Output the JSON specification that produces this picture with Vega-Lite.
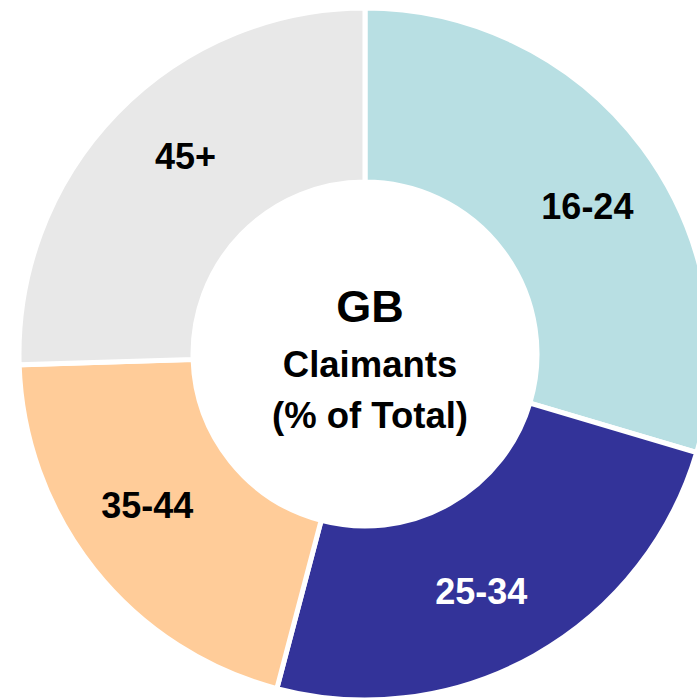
{
  "$schema": "https://vega.github.io/schema/vega-lite/v6.json",
  "autosize": "none",
  "width": 730,
  "height": 708,
  "padding": 0,
  "background": "white",
  "config": {"view": {"stroke": null}},
  "datasets": {
    "slices": [
      {"age": "16-24", "share": 29.6, "order": 1},
      {"age": "25-34", "share": 24.5, "order": 2},
      {"age": "35-44", "share": 20.4, "order": 3},
      {"age": "45+", "share": 25.5, "order": 4}
    ]
  },
  "layer": [
    {
      "data": {"name": "slices"},
      "mark": {"type": "arc", "outerRadius": 346, "innerRadius": 172, "stroke": "white", "strokeWidth": 5},
      "encoding": {
        "theta": {"field": "share", "type": "quantitative", "stack": true},
        "order": {"field": "order", "type": "quantitative"},
        "color": {
          "field": "age", "type": "nominal",
          "scale": {"domain": ["16-24", "25-34", "35-44", "45+"], "range": ["#b8dfe3", "#333399", "#ffcc99", "#e8e8e8"]},
          "legend": null
        }
      }
    },
    {
      "data": {"name": "slices"},
      "mark": {"type": "text", "radius": 266, "thetaOffset": 0.06, "font": "Liberation Sans", "fontWeight": "bold", "fontSize": 36, "align": "center", "baseline": "middle"},
      "encoding": {
        "theta": {"field": "share", "type": "quantitative", "stack": true},
        "order": {"field": "order", "type": "quantitative"},
        "text": {"field": "age", "type": "nominal"},
        "color": {"condition": {"test": "datum.age === '25-34'", "value": "white"}, "value": "black"}
      }
    },
    {
      "data": {"values": [{"t": "GB"}]},
      "mark": {"type": "text", "font": "Liberation Sans", "fontWeight": "bold", "fontSize": 45, "align": "center", "baseline": "alphabetic", "dx": 5, "dy": -32, "color": "black"},
      "encoding": {"text": {"field": "t", "type": "nominal"}}
    },
    {
      "data": {"values": [{"t": "Claimants"}]},
      "mark": {"type": "text", "font": "Liberation Sans", "fontWeight": "bold", "fontSize": 36.5, "align": "center", "baseline": "alphabetic", "dx": 5, "dy": 23, "color": "black"},
      "encoding": {"text": {"field": "t", "type": "nominal"}}
    },
    {
      "data": {"values": [{"t": "(% of Total)"}]},
      "mark": {"type": "text", "font": "Liberation Sans", "fontWeight": "bold", "fontSize": 36.5, "align": "center", "baseline": "alphabetic", "dx": 5, "dy": 74, "color": "black"},
      "encoding": {"text": {"field": "t", "type": "nominal"}}
    }
  ]
}
